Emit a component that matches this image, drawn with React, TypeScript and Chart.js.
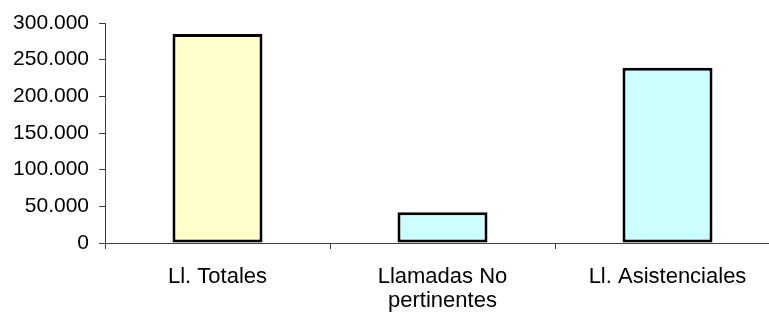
import React, { useEffect, useRef } from "react";
import { Chart, registerables } from "chart.js";

Chart.register(...registerables);

const categories: (string | string[])[] = ["Ll. Totales", ["Llamadas No", "pertinentes"], "Ll. Asistenciales"];
const values: number[] = [285000, 42000, 239000];
const barColors: string[] = ["#FFFFCC", "#CCFFFF", "#CCFFFF"];
const yTicks: number[] = [0, 50000, 100000, 150000, 200000, 250000, 300000];

const fmt = (v: number) => String(v).replace(/\B(?=(\d{3})+(?!\d))/g, ".");

export default function App() {
  const ref = useRef<HTMLCanvasElement | null>(null);
  useEffect(() => {
    if (!ref.current) return;
    const chart = new Chart(ref.current, {
      type: "bar",
      data: {
        labels: categories,
        datasets: [
          {
            data: values,
            backgroundColor: barColors,
            borderColor: "#000000",
            borderWidth: 3,
            borderSkipped: false,
            barPercentage: 0.4,
            categoryPercentage: 1,
          },
        ],
      },
      options: {
        responsive: false,
        animation: false,
        devicePixelRatio: 1,
        layout: { padding: { top: 23, left: 0, right: 0, bottom: 0 } },
        plugins: { legend: { display: false }, tooltip: { enabled: false } },
        scales: {
          x: {
            offset: true,
            grid: {
              offset: true,
              drawOnChartArea: false,
              drawTicks: true,
              tickLength: 6,
              color: "#404040",
              lineWidth: 1,
            },
            border: { display: true, color: "#404040", width: 1 },
            ticks: {
              color: "#000000",
              padding: 16,
              maxRotation: 0,
              autoSkip: false,
              font: { family: "'Liberation Sans', Arial, sans-serif", size: 22, lineHeight: 1.08 },
            },
            afterFit: (s: any) => {
              s.height = 70;
            },
          },
          y: {
            min: 0,
            max: 300000,
            afterBuildTicks: (s: any) => {
              s.ticks = yTicks.map((v) => ({ value: v }));
            },
            grid: {
              drawOnChartArea: false,
              drawTicks: true,
              tickLength: 6,
              color: "#404040",
              lineWidth: 1,
            },
            border: { display: true, color: "#404040", width: 1 },
            ticks: {
              color: "#000000",
              padding: 10,
              callback: (v: any) => fmt(Number(v)),
              font: { family: "'Liberation Sans', Arial, sans-serif", size: 21 },
            },
            afterFit: (s: any) => {
              s.width = 105;
            },
          },
        },
      },
    });
    return () => chart.destroy();
  }, []);
  return (
    <div style={{ position: "fixed", left: 0, top: 0, width: 780, height: 313, background: "#fff" }}>
      <canvas ref={ref} width={780} height={313} style={{ width: 780, height: 313, display: "block" }} />
    </div>
  );
}
